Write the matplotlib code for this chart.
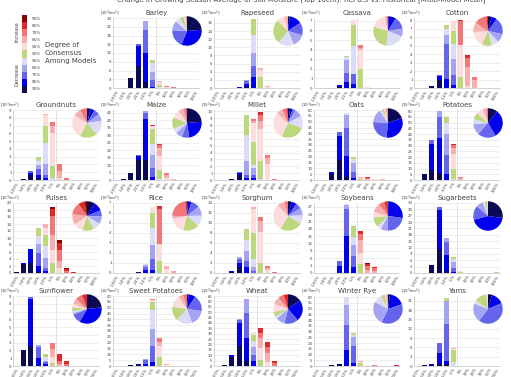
import numpy as np
import matplotlib.pyplot as plt

# consensus classes, bottom of stack first: decrease 95..55, 50, increase 55..95
colors = ['#0b0b55', '#0000ee', '#6464ec', '#a4a4f2', '#dcdcf8', '#bcd77c',
          '#fcdcdc', '#f6b0b0', '#f07878', '#e02828', '#8c0000']
legend_labels = ['95%', '85%', '75%', '65%', '55%', '50%', '55%', '65%', '75%', '85%', '95%']
bin_labels = ['-100%', '-50%', '-30%', '-20%', '-10%', '-5%', '5%', '10%', '20%', '30%', '50%', '100%']

crops = ['Barley', 'Rapeseed', 'Cassava', 'Cotton',
         'Groundnuts', 'Maize', 'Millet', 'Oats', 'Potatoes',
         'Pulses', 'Rice', 'Sorghum', 'Soybeans', 'Sugarbeets',
         'Sunflower', 'Sweet Potatoes', 'Wheat', 'Winter Rye', 'Yams']
ymax = [24, 17.2, 7.3, 8.3, 9, 47, 10.2, 60, 61, 20, 7, 14, 28.5, 33, 9, 60, 65, 61, 22.5]
ystep = [3, 2, 1, 1, 1, 5, 1, 5, 5, 2, 1, 2, 3, 3, 1, 5, 5, 5, 3]

# area per change bin (10^3 km2), split by consensus class
barley = {1: [0.1], 2: [3.3, 0.2], 3: [7.5, 7.0, 0.5], 4: [2.0, 10.0, 8.0, 3.0],
          5: [0, 0.5, 2.3, 2.7, 3.0, 1.2], 6: [0, 0, 0, 0, 0.2, 1.0, 0.8, 0.3, 0.2],
          7: [0, 0, 0, 0, 0, 0, 0.2, 0.2, 0.2], 8: [0, 0, 0, 0, 0, 0, 0, 0.1, 0.1]}
rapeseed = {2: [0.05], 3: [0.1, 0.05], 4: [0.3, 0.8, 0.7, 0.2], 5: [0, 2.6, 2.8, 3.2, 4.4, 4.0],
            6: [0, 0, 0, 0, 0, 2.6, 1.8, 0.6], 7: [0, 0, 0, 0, 0, 0, 0.3, 0.2, 0.1],
            8: [0, 0, 0, 0, 0, 0, 0, 0.1]}
cassava = {2: [0.05], 3: [0.1, 0.2], 4: [0, 0.6, 1.0, 1.3, 0.3, 0.1], 5: [0, 0.4, 1.1, 0, 2.9, 2.2, 0.5],
           6: [0, 0, 0, 0, 0, 2.0, 2.0, 0.2, 0.3], 7: [0, 0, 0, 0, 0, 0, 0.1]}
cotton = {1: [0.03], 2: [0.25], 3: [1.0, 0.4, 0.2], 4: [0, 1.1, 4.1, 1.1, 0.7, 0.5],
          5: [0, 0.3, 1.3, 1.8, 1.8, 1.5, 1.2], 6: [0, 0, 0, 0, 0, 1.3, 3.8, 0, 2.8, 0.2],
          7: [0, 0, 0, 0, 0, 0, 0.2, 2.3, 1.0, 0.4], 8: [0, 0, 0, 0, 0, 0, 0, 0.9, 0.4]}
groundnuts = {0: [0.02], 1: [0.1], 2: [0.6, 0.3, 0.2], 3: [0.2, 0.5, 0.7, 0.5, 0.6, 0.4],
              4: [0, 0.2, 0.5, 1.3, 2.7, 2.3, 1.3, 0.2], 5: [0, 0, 0, 0, 0.3, 1.5, 4.3, 0.8, 0.6],
              6: [0, 0, 0, 0, 0, 0, 0.3, 0.9, 0.8], 7: [0, 0, 0, 0, 0, 0, 0, 0, 0.2, 0.1]}
maize = {1: [0.5], 2: [4.5, 0.5], 3: [13.5, 2.5, 1.0], 4: [13.5, 27.5, 4.0, 1.5],
         5: [0, 2.0, 6.0, 8.5, 7.5, 10.0, 2.0, 0, 0.5, 0.5], 6: [0, 0, 0, 0, 0.5, 6.5, 9.0, 5.5, 2.0, 0.5],
         7: [0, 0, 0, 0, 0, 0, 1.5, 2.0, 1.0], 8: [0, 0, 0, 0, 0, 0, 0, 0.6, 0.4]}
millet = {2: [0.1], 3: [0.7, 0.3, 0.2], 4: [0, 0.3, 0.5, 1.9, 3.8, 2.9],
          5: [0, 0.3, 0.4, 1.0, 0.5, 3.3, 2.8, 0.3, 0.3], 6: [0, 0, 0, 0, 0.2, 2.5, 4.7, 1.2, 0.9, 0.4],
          7: [0, 0, 0, 0, 0, 0, 2.4, 0.8, 0.4], 8: [0, 0, 0, 0, 0, 0, 0, 0, 0.1]}
oats = {1: [0.2], 2: [5.5, 1.0], 3: [17.0, 21.0, 3.0], 4: [3.0, 18.0, 24.0, 11.0, 1.0],
        5: [0, 2.0, 5.0, 8.0, 3.0, 2.0], 6: [0, 0, 0, 0, 0, 0.8, 1.2, 0.5, 0.3],
        7: [0, 0, 0, 0, 0, 0, 0, 1.0, 0.8, 0.4], 8: [0, 0, 0, 0, 0, 0, 0.5, 0.5],
        9: [0, 0, 0, 0, 0, 0, 0.3, 0.2]}
potatoes = {0: [0.3], 1: [5.0, 0.5], 2: [9.0, 22.0, 4.0], 3: [6.0, 31.0, 18.0, 5.0],
            4: [0, 5.5, 16.5, 18.0, 10.0, 5.0, 1.0], 5: [0, 0, 0, 0, 1.0, 9.0, 13.0, 5.0, 2.5, 0.5],
            6: [0, 0, 0, 0, 0, 0, 0, 2.0, 1.0], 7: [0, 0, 0, 0, 0, 0, 0, 0.3]}
pulses = {0: [0.3], 1: [2.6, 0.2], 2: [3.0, 3.8, 0.2], 3: [0.3, 1.8, 3.5, 2.8, 2.2, 2.4],
          4: [0, 0.5, 1.0, 2.8, 3.5, 3.0, 2.0, 1.2], 5: [0, 0, 0, 0, 0, 3.0, 3.5, 4.5, 5.4, 1.8, 0.8],
          6: [0, 0, 0, 0, 0, 0, 1.5, 2.0, 3.0, 2.0, 0.8], 7: [0, 0, 0, 0, 0, 0, 0, 0, 0.5, 0.6, 0.3],
          8: [0, 0, 0, 0, 0, 0, 0, 0, 0, 0.2]}
rice = {1: [0.02], 2: [0.05], 3: [0.1], 4: [0, 0.3, 0.3, 0.2, 0.1],
        5: [0, 0.3, 1.1, 1.4, 1.7, 1.5, 0.6], 6: [0, 0, 0, 0, 0, 1.2, 1.7, 0, 3.5, 0.3],
        7: [0, 0, 0, 0, 0, 0, 0.4, 0.3], 8: [0, 0, 0, 0, 0, 0, 0, 0.2]}
sorghum = {1: [0.05], 2: [0.3, 0.1], 3: [1.2, 0.9, 0.8, 0.4], 4: [0, 1.2, 1.2, 2.0, 2.2, 2.2],
           5: [0, 0, 0.5, 0.8, 1.5, 5.3, 4.7, 0.5], 6: [0, 0, 0, 0, 0, 2.0, 6.2, 2.2, 0.9],
           7: [0, 0, 0, 0, 0, 0, 0.6, 0.5, 0.3], 8: [0, 0, 0, 0, 0, 0, 0, 0, 0.2, 0.1]}
soybeans = {2: [0.2], 3: [0, 2.8, 1.9], 4: [0, 15.0, 11.0, 1.5, 0.5], 5: [0, 2.5, 4.5, 4.5, 3.0, 4.5],
            6: [0, 0, 0, 0, 0, 3.5, 4.5, 5.5, 2.5, 1.0], 7: [0, 0, 0, 0, 0, 0, 0, 1.2, 1.5, 1.0, 0.3],
            8: [0, 0, 0, 0, 0, 0, 0, 0.8, 1.2, 0.6]}
sugarbeets = {1: [0.2], 2: [3.7, 0.3], 3: [11.5, 18.0, 1.5], 4: [1.0, 7.5, 6.0, 2.0],
              5: [0, 0.5, 2.0, 2.5, 1.5, 1.0], 6: [0, 0, 0, 0, 0, 0.4, 0.4], 11: [0, 0, 0, 0, 0, 0.3]}
sunflower = {0: [0.05], 1: [2.1], 2: [2.6, 6.0, 0.3], 3: [0, 1.0, 1.5, 0.2], 4: [0, 0.2, 0.3, 0.2, 0.4, 0.5],
             5: [0, 0, 0, 0, 0, 0.4, 0.8, 1.0, 0.8], 6: [0, 0, 0, 0, 0, 0, 0, 0.2, 0.5, 0.8],
             7: [0, 0, 0, 0, 0, 0, 0, 0, 0.3, 0.3]}
sweet_potatoes = {1: [0.3], 2: [0.5, 0.5], 3: [0.8, 1.2], 4: [0, 2.0, 3.0, 1.0],
                  5: [0, 3.5, 13.5, 15.0, 16.0, 7.0, 1.5, 0, 1.0], 6: [0, 0, 0, 0, 0, 7.5, 9.5, 4.0, 3.0],
                  7: [0, 0, 0, 0, 0, 0, 1.0, 1.0]}
wheat = {1: [0.5], 2: [8.0, 2.5], 3: [18.5, 21.0, 3.0, 1.0], 4: [5.0, 21.0, 23.0, 13.0],
         5: [0, 4.5, 6.0, 7.0, 5.5, 6.0, 3.0], 6: [0, 0, 0, 0, 0, 5.5, 11.5, 9.0, 5.0, 4.0],
         7: [0, 0, 0, 0, 0, 0, 4.0, 8.0, 6.0, 4.0], 8: [0, 0, 0, 0, 0, 0, 0, 0, 2.5, 2.0]}
winter_rye = {2: [0.6], 3: [1.5, 0.5], 4: [0, 14.0, 22.0, 17.0, 7.0], 5: [0, 2.5, 14.5, 8.0, 2.0, 1.5],
              6: [0, 0, 0, 0, 0, 2.5, 1.0, 0.5], 7: [0, 0, 0, 0, 0, 0, 0.5, 0.5],
              8: [0, 0, 0, 0, 0, 0, 0, 0.3, 0.2], 11: [0, 0, 0, 0, 0, 0, 0, 0, 0.3, 0.2]}
yams = {1: [0.2], 2: [0.2, 0.6], 3: [0.7, 3.5, 3.1], 4: [0.5, 1.0, 12.0, 7.5, 0, 1.0],
        5: [0, 0, 0, 0, 1.3, 3.8, 0.5, 0.2]}

data = [barley, rapeseed, cassava, cotton, groundnuts, maize, millet, oats, potatoes,
        pulses, rice, sorghum, soybeans, sugarbeets, sunflower, sweet_potatoes, wheat,
        winter_rye, yams]

W, H = 511, 377
fig = plt.figure(figsize=(W / 100, H / 100), dpi=100)
txt = '#444444'

col_left = [13, 113, 214, 314, 414]
row_top = [18, 110, 203, 296]
aw, ah = 86, 70

fig.text(0.59, 1 + 0.5 / H,
         'Change in Growing Season Average of Soil Moisture (Top 10cm): RCP8.5 vs. Historical [Multi-Model Mean]',
         ha='center', va='center', fontsize=5, color=txt)

# legend colour strip
lax = fig.add_axes([22 / W, 1 - 93 / H, 5 / W, 78 / H])
for i, c in enumerate(colors):
    lax.bar(0, 1, 1, bottom=i, color=c, linewidth=0)
lax.set_xlim(-0.5, 0.5)
lax.set_ylim(0, 11)
lax.axis('off')
for i, lab in enumerate(legend_labels):
    lax.text(1.4, 10.5 - i, lab, fontsize=3, color=txt, va='center', ha='left')
fig.text(17 / W, 1 - 32 / H, 'Increase', rotation=90, fontsize=3.5, color=txt, ha='center', va='center')
fig.text(17 / W, 1 - 75 / H, 'Decrease', rotation=90, fontsize=3.5, color=txt, ha='center', va='center')
fig.text(45 / W, 1 - 53 / H, 'Degree of\nConsensus\nAmong Models', fontsize=5, color=txt,
         ha='left', va='center', linespacing=1.5)

x = np.arange(12)
for k, name in enumerate(crops):
    r, c = divmod(k + 1, 5)
    ax = fig.add_axes([col_left[c] / W, 1 - (row_top[r] + ah) / H, aw / W, ah / H])
    mat = np.zeros((12, 11))
    for b, vals in data[k].items():
        mat[b, :len(vals)] = vals
    bottom = np.zeros(12)
    for j in range(11):
        ax.bar(x, mat[:, j], 0.7, bottom=bottom, color=colors[j], linewidth=0, zorder=2)
        bottom += mat[:, j]
    ax.set_xlim(-0.5, 11.5)
    ax.set_ylim(0, ymax[k])
    ax.set_yticks(np.arange(0, ymax[k] + 0.01, ystep[k]))
    ax.set_xticks(x)
    ax.set_xticklabels(bin_labels, rotation=60, ha='right', rotation_mode='anchor')
    ax.tick_params(labelsize=2.8, colors=txt, length=0, pad=1)
    ax.yaxis.grid(True, color='#e2e2e2', linewidth=0.4)
    ax.set_axisbelow(True)
    ax.axvline(5.5, color='#d0d0d0', linewidth=0.4, zorder=1)
    for s in ['top', 'right']:
        ax.spines[s].set_visible(False)
    for s in ['left', 'bottom']:
        ax.spines[s].set_color('#b0b0b0')
        ax.spines[s].set_linewidth(0.4)
    ax.set_title(name, fontsize=5, color=txt, pad=2)
    ax.text(-0.04, 1.07, '[10$^3$km$^2$]', transform=ax.transAxes, fontsize=2.8,
            color=txt, ha='center', va='center')

    # pie of total area per consensus class
    cx = col_left[c] + aw - 12
    cy = row_top[r] + 13
    rad = 15
    pax = fig.add_axes([(cx - rad) / W, 1 - (cy + rad) / H, 2 * rad / W, 2 * rad / H])
    pax.pie(mat.sum(axis=0), colors=colors, startangle=90, counterclock=False,
            radius=1, wedgeprops=dict(linewidth=0))
    pax.set_xlim(-1.02, 1.02)
    pax.set_ylim(-1.02, 1.02)
    pax.set_aspect('equal')

fig.savefig('out.png', dpi=100)
